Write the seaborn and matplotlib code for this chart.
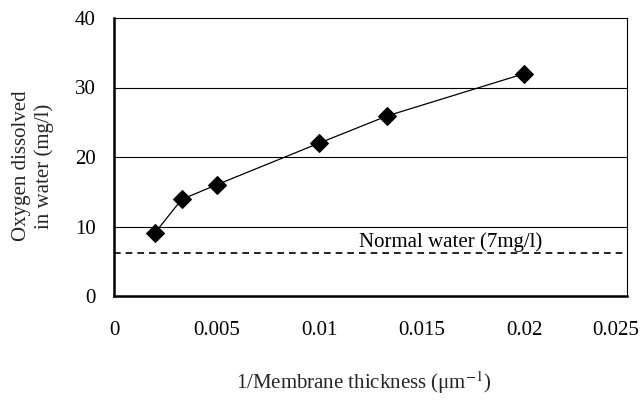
import matplotlib
matplotlib.use("Agg")
import matplotlib.pyplot as plt
import matplotlib.transforms as mtransforms
import seaborn as sns
import pandas as pd

inv_thickness = [0.002, 0.0033, 0.005, 0.01, 0.0133, 0.02]
oxygen = [9.1, 13.9, 16.0, 22.0, 25.9, 32.0]
normal_level = 6.2
x_ticks = [0, 0.005, 0.01, 0.015, 0.02, 0.025]
x_tick_labels = ["0", "0.005", "0.01", "0.015", "0.02", "0.025"]
y_ticks = [0, 10, 20, 30, 40]

sns.set_style("white")
plt.rcParams["font.family"] = ["Liberation Serif", "DejaVu Serif"]
plt.rcParams["mathtext.fontset"] = "stix"

FS = 15

df = pd.DataFrame({"x": inv_thickness, "y": oxygen})

fig = plt.figure(figsize=(6.43, 4.05), dpi=100)
ax = fig.add_axes([114/643, 1 - 296/405, (627-114)/643, (296-18)/405])

for yv in y_ticks[1:-1]:
    ax.axhline(yv, color="black", lw=0.8, zorder=1)
ax.axhline(normal_level, color="black", lw=1.2, ls=(0, (4, 3)), zorder=1)

sns.lineplot(data=df, x="x", y="y", ax=ax, color="black", lw=0.9,
             marker="D", markersize=9, markeredgecolor="black",
             markerfacecolor="black", zorder=3)

ax.text(0.0164, 7.0, "Normal water (7mg/l)", ha="center", va="baseline",
        fontsize=FS, color="black")

ax.set_xlim(0, 0.025)
ax.set_ylim(0, 40)
ax.set_xticks(x_ticks)
ax.set_xticklabels(x_tick_labels)
ax.set_yticks(y_ticks)
ax.tick_params(axis="x", direction="in", length=5, width=1, pad=18,
               labelsize=FS, colors="black")
ax.tick_params(axis="y", direction="out", length=0, pad=13,
               labelsize=FS, colors="black")

# keep the last tick label inside the figure, as in the reference
last = ax.get_xticklabels()[-1]
last.set_transform(last.get_transform() +
                   mtransforms.ScaledTranslation(-11/100, 0, fig.dpi_scale_trans))

ax.set_xlabel("")
ax.set_ylabel("")
fig.text(364/643, 1 - 383/405, "1/Membrane thickness (μm$^{-1}$)",
         ha="center", va="center", fontsize=FS)
fig.text(33/643, 1 - 166/405, "Oxygen dissolved\nin water (mg/l)",
         ha="center", va="center", rotation=90, fontsize=FS,
         linespacing=1.2, multialignment="center")

for side in ["left", "bottom"]:
    ax.spines[side].set_color("black")
    ax.spines[side].set_linewidth(1.8)
for side in ["top", "right"]:
    ax.spines[side].set_color("black")
    ax.spines[side].set_linewidth(0.8)
    ax.spines[side].set_visible(True)

fig.savefig("out.png", dpi=100)
